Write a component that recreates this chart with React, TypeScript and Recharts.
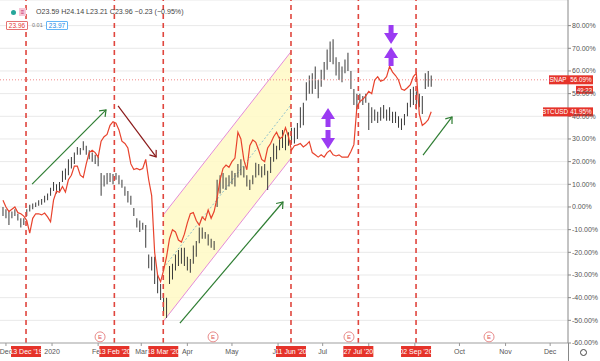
import React from "react";
import {
  ComposedChart,
  Bar,
  Line,
  XAxis,
  YAxis,
  CartesianGrid,
  ReferenceLine,
  ReferenceDot,
  ReferenceArea,
} from "recharts";

// x = days since 1 Jan 2020, one SNAP bar every two days
const firstDay = -33;
const dayStep = 2;

// SNAP, % change (OHLC bars, low / high)
const snapLow = [
  -4, -5, -8, -5, -4, -6, -9, -8, -4, -2,
  -1, 0, 0.5, 1, 2, 3, 5, 7, 6, 7,
  11, 12, 14, 17, 19, 23, 23, 25, 23, 21,
  20, 19, 18, 5, 9, 10, 11, 10, 12, 10,
  8.5, 5, 2, 1, -4, -9, -11, -10, -18, -27,
  -28, -34, -38, -41, -48, -49, -34, -32, -28, -26,
  -25, -26, -28, -29, -25, -22, -16, -14, -14, -17,
  -18, -19, 0, 6, 8, 7.5, 9, 10, 9, 13,
  14, 13, 9, 7.5, 10, 13, 14, 13, 14, 7.5,
  15, 20, 21, 25, 26, 25, 27, 28, 28, 30,
  35, 36, 47, 50, 50, 52, 48, 53, 56, 60.5,
  64, 63, 58, 56, 55, 59, 60, 52, 45, 43,
  46, 45, 46, 34, 37, 38, 37, 38, 39, 38,
  38, 37, 37, 35, 34, 36, 40, 44, 45, 43,
  44, 41, 52, 53, 53,
];
const snapHigh = [
  0, -1, -2, -2, -1, -3, -5, -5, -1, 1,
  1.5, 2, 3, 3.5, 5, 6, 8.5, 11, 10, 11,
  16, 17, 21, 22, 24, 26.5, 26, 29, 27, 25,
  24, 23, 22, 15, 14, 15, 15, 14.5, 15, 14,
  12, 9, 7, 5, -0.5, -5, -6, -7, -8, -21,
  -22, -22, -30, -34, -38, -40, -26, -25, -21, -19,
  -18, -18, -22, -23, -17, -15, -9, -9, -11, -12,
  -14, -15, 12, 14, 15, 13, 14, 16, 15, 19,
  21, 18, 14, 12, 14, 19.5, 19, 18, 19, 16,
  22, 28, 27, 31, 34, 32, 33, 35, 35, 37,
  44, 46, 55, 58, 59, 62, 56, 60.5, 64, 69.5,
  73, 74, 66, 64, 62, 65, 68, 60, 52, 50,
  50, 49, 50, 46, 44, 43, 42, 44, 45, 43,
  44, 42, 42, 40, 39, 41, 46, 52, 53, 51,
  50, 49, 59, 60, 58,
];
// BTCUSD, % change
const btcPct = [
  3, 0, -2, -1, 0, -2.5, -3, -4, -6, -11.5,
  -5, -3, -3, -3.5, -2.7, -4.4, -6.5, 3, 7, 6.5,
  9, 6.6, 12, 14, 18, 18, 14, 13, 19, 24,
  25, 24, 22, 29, 31, 32, 36, 37.6, 37, 34,
  29, 28, 26, 19, 16.5, 17, 16.4, 17, 21, 12,
  5, -20, -30, -33, -28, -22, -14, -10, -11, -14.6,
  -15.5, -12, -7, -3, -2.5, -6, -8, -4.4, -5.8, -1.3,
  -5, -2, 4, 12, 17, 18.5, 17.5, 20, 21.6, 33,
  30, 20.8, 16.4, 27, 29.6, 28.5, 25, 21, 20, 26,
  28, 31, 33, 30, 31, 35, 31, 25, 27, 27.4,
  28, 26.5, 27.4, 28.8, 24, 23, 22, 23, 22, 24,
  25, 23, 22.5, 23, 22, 22, 22, 24.5, 27.5, 44,
  46.5, 47.5, 49, 51, 50, 56, 57.5, 55.5, 56, 57.5,
  62, 59.5, 58, 56, 52, 51.5, 52.6, 54, 57.5, 59,
  41, 36, 37, 38.5, 42,
];

const monthTicks = [-31, 0, 31, 60, 91, 121, 152, 182, 213, 244, 274, 305, 335];
const monthLabels = ["Dec", "2020", "Feb", "Mar", "Apr", "May", "Jun", "Jul", "Aug", "Sep", "Oct", "Nov", "Dec"];
const pctTicks = [-60, -50, -40, -30, -20, -10, 0, 10, 20, 30, 40, 50, 60, 70, 80];

const eventDays = [-17.5, 41.9, 74.8, 160.7, 206, 244.8];
const eventLabels = ["13 Dec '19", "13 Feb '20", "18 Mar '20", "11 Jun '20", "27 Jul '20", "02 Sep '20"];
const earningsDays = [32.3, 108.3, 199.7, 293.9];

// channel: [day, lower, upper] at both ends
const channelStart = [74.8, -50.5, -3.5];
const channelEnd = [160.7, 21.5, 68.5];

// trend arrows [x1, y1, x2, y2]
const greenArrows = [
  [-13.4, 10.1, 36.3, 42.8],
  [86, -51.2, 155.3, 2.2],
  [249.5, 22.9, 269, 39.7],
];
const redArrow = [44.4, 44.6, 70, 22.1];

// purple markers [day, tip %, direction]
const purpleMarks: [number, number, string][] = [
  [185.6, 43.7, "up"],
  [185.6, 25.6, "down"],
  [228, 71.9, "down"],
  [228, 70.6, "up"],
];

const snapLast = 56.09;
const btcLast = 41.95;

const X_DOMAIN = [-35, 347];
const Y_DOMAIN = [-60, 91.3];
const BOX_HALF = 15;

const RED = "#e5332a";
const FONT = "Liberation Sans, Arial, sans-serif";

const rows = snapLow.map((lo, i) => ({
  day: firstDay + i * dayStep,
  snap: [lo, snapHigh[i]],
  btc: btcPct[i],
}));

const AxisTick = (props: any) => {
  const { x, y, payload, index } = props;
  const v = payload.value;
  const ev = eventDays.indexOf(v);
  if (ev >= 0) {
    return (
      <g>
        <rect x={x - BOX_HALF} y={y - 2} width={BOX_HALF * 2} height={11} fill={RED} />
        <text x={x} y={y + 6} textAnchor="middle" fontSize={7} fill="#fff" fontFamily={FONT}>
          {eventLabels[ev]}
        </text>
      </g>
    );
  }
  const m = monthTicks.indexOf(v);
  // event boxes sit on top of month labels: keep only the uncovered part
  const pxPerDay = (props.width || 568) / (X_DOMAIN[1] - X_DOMAIN[0]);
  let left = x - 14;
  let right = x + 14;
  eventDays.forEach((e) => {
    const ex = x + (e - v) * pxPerDay;
    if (ex >= x) right = Math.min(right, ex - BOX_HALF);
    else left = Math.max(left, ex + BOX_HALF);
  });
  const id = `mclip-${index}-${v}`;
  return (
    <g>
      <line x1={x} x2={x} y1={y - 5} y2={y - 2} stroke="#999" />
      {right - left > 10 && (
        <>
          <clipPath id={id}>
            <rect x={left} y={y - 4} width={right - left} height={14} />
          </clipPath>
          <text x={x} y={y + 6} textAnchor="middle" fontSize={7} fill="#555" fontFamily={FONT} clipPath={`url(#${id})`}>
            {monthLabels[m]}
          </text>
        </>
      )}
    </g>
  );
};

const arrowShape = (color: string) => (p: any) => {
  const { x1, y1, x2, y2 } = p;
  const a = Math.atan2(y2 - y1, x2 - x1);
  const L = 7;
  const s = 0.65;
  const ax = x2 - L * Math.cos(a - s);
  const ay = y2 - L * Math.sin(a - s);
  const bx = x2 - L * Math.cos(a + s);
  const by = y2 - L * Math.sin(a + s);
  return (
    <g>
      <line x1={x1} y1={y1} x2={x2} y2={y2} stroke={color} strokeWidth={1.2} />
      <polyline points={`${ax},${ay} ${x2},${y2} ${bx},${by}`} fill="none" stroke={color} strokeWidth={1.2} />
    </g>
  );
};

const ChannelShape = (p: any) => {
  const { x, y, width, height } = p;
  const top = channelEnd[2];
  const bottom = channelStart[1];
  const fy = (v: number) => y + (height * (top - v)) / (top - bottom);
  const l1 = fy(channelStart[1]);
  const u1 = fy(channelStart[2]);
  const l2 = fy(channelEnd[1]);
  const u2 = fy(channelEnd[2]);
  const x2 = x + width;
  return (
    <g>
      <polygon points={`${x},${l1} ${x},${u1} ${x2},${u2} ${x2},${l2}`} fill="#fff9c4" fillOpacity={0.85} />
      <line x1={x} y1={u1} x2={x2} y2={u2} stroke="#e48bd8" strokeWidth={1} />
      <line x1={x} y1={l1} x2={x2} y2={l2} stroke="#e48bd8" strokeWidth={1} />
      <line x1={x} y1={(l1 + u1) / 2} x2={x2} y2={(l2 + u2) / 2} stroke="#8fc1cc" strokeWidth={1} strokeDasharray="2 2" />
    </g>
  );
};

const PurpleShape = (dir: string) => (p: any) => {
  const { cx, cy } = p;
  const s = dir === "up" ? 1 : -1;
  const hh = 11;
  const hw = 7;
  const sw = 2.5;
  const sl = 8;
  const pts = [
    [cx, cy],
    [cx + hw, cy + s * hh],
    [cx + sw, cy + s * hh],
    [cx + sw, cy + s * (hh + sl)],
    [cx - sw, cy + s * (hh + sl)],
    [cx - sw, cy + s * hh],
    [cx - hw, cy + s * hh],
  ];
  return <polygon points={pts.map((q) => q.join(",")).join(" ")} fill="#9b3bf2" />;
};

const EarningsShape = (p: any) => (
  <g>
    <circle cx={p.cx} cy={p.cy} r={5} fill="#fff" stroke="#e88a8a" strokeWidth={1} />
    <text x={p.cx} y={p.cy + 2.3} textAnchor="middle" fontSize={6} fill="#e05555" fontFamily={FONT}>
      E
    </text>
  </g>
);

const SnapTag = (p: any) => (
  <g>
    <rect x={p.cx - 19} y={p.cy - 4.5} width={44} height={9} fill={RED} />
    <text x={p.cx - 10} y={p.cy + 2.4} textAnchor="middle" fontSize={6.3} fill="#fff" fontFamily={FONT}>SNAP</text>
    <text x={p.cx + 13} y={p.cy + 2.4} textAnchor="middle" fontSize={6.3} fill="#fff" fontFamily={FONT}>
      {snapLast.toFixed(2)}%
    </text>
    <rect x={p.cx + 8} y={p.cy + 6} width={17} height={8} fill={RED} />
    <text x={p.cx + 16.5} y={p.cy + 12.2} textAnchor="middle" fontSize={6} fill="#fff" fontFamily={FONT}>49:33</text>
  </g>
);

const BtcTag = (p: any) => (
  <g>
    <rect x={p.cx - 25} y={p.cy - 4.5} width={50} height={9} fill={RED} />
    <text x={p.cx - 13} y={p.cy + 2.4} textAnchor="middle" fontSize={6.3} fill="#fff" fontFamily={FONT}>BTCUSD</text>
    <text x={p.cx + 13} y={p.cy + 2.4} textAnchor="middle" fontSize={6.3} fill="#fff" fontFamily={FONT}>
      {btcLast.toFixed(2)}%
    </text>
  </g>
);

export default function App() {
  return (
    <div style={{ position: "relative", width: 600, height: 361, background: "#fff", fontFamily: FONT }}>
      <style>{`body{margin:0}`}</style>
      <ComposedChart width={600} height={361} data={rows} margin={{ top: 0, right: 0, bottom: 0, left: 0 }}>
        <CartesianGrid
          stroke="#e9e9e9"
          verticalCoordinatesGenerator={({ xAxis }: any) =>
            xAxis && typeof xAxis.scale === "function" ? monthTicks.map((d) => xAxis.scale(d)) : []
          }
        />
        <XAxis
          dataKey="day"
          type="number"
          domain={X_DOMAIN}
          allowDataOverflow
          ticks={[...monthTicks, ...eventDays]}
          interval={0}
          height={18}
          tickSize={3}
          tickMargin={2}
          tickLine={false}
          axisLine={{ stroke: "#aaa" }}
          tick={<AxisTick />}
        />
        <YAxis
          orientation="right"
          width={32}
          domain={Y_DOMAIN}
          allowDataOverflow
          ticks={pctTicks}
          interval={0}
          tickSize={3}
          tickMargin={1}
          axisLine={{ stroke: "#888" }}
          tickLine={{ stroke: "#888" }}
          tick={{ fontSize: 7, fill: "#555", fontFamily: FONT }}
          tickFormatter={(v: number) => `${v.toFixed(2)}%`}
        />
        <ReferenceArea
          x1={channelStart[0]}
          x2={channelEnd[0]}
          y1={channelStart[1]}
          y2={channelEnd[2]}
          shape={ChannelShape}
        />
        {eventDays.map((d) => (
          <ReferenceLine key={`ev-${d}`} x={d} stroke="#e0463e" strokeWidth={1.6} strokeDasharray="5 4" />
        ))}
        <ReferenceLine y={snapLast} stroke="#f08a8a" strokeDasharray="1 2" />
        <Bar dataKey="snap" barSize={1} fill="#3a3a3a" isAnimationActive={false} />
        <Line
          dataKey="btc"
          type="linear"
          stroke="#e8432d"
          strokeWidth={1.2}
          dot={false}
          activeDot={false}
          isAnimationActive={false}
        />
        {greenArrows.map((a, i) => (
          <ReferenceLine
            key={`ga-${i}`}
            segment={[{ x: a[0], y: a[1] }, { x: a[2], y: a[3] }]}
            stroke="#2e7d32"
            shape={arrowShape("#2e7d32")}
            ifOverflow="visible"
          />
        ))}
        <ReferenceLine
          segment={[{ x: redArrow[0], y: redArrow[1] }, { x: redArrow[2], y: redArrow[3] }]}
          stroke="#8b1a1a"
          shape={arrowShape("#8b1a1a")}
          ifOverflow="visible"
        />
        {purpleMarks.map((m, i) => (
          <ReferenceDot key={`pm-${i}`} x={m[0]} y={m[1]} shape={PurpleShape(m[2])} ifOverflow="visible" />
        ))}
        {earningsDays.map((d) => (
          <ReferenceDot key={`e-${d}`} x={d} y={-57.3} shape={EarningsShape} ifOverflow="visible" />
        ))}
        <ReferenceDot x={X_DOMAIN[1]} y={snapLast} shape={SnapTag} ifOverflow="visible" />
        <ReferenceDot x={X_DOMAIN[1]} y={btcLast} shape={BtcTag} ifOverflow="visible" />
      </ComposedChart>

      {/* legend overlay */}
      <div style={{ position: "absolute", left: 11, top: 10, width: 5, height: 5, borderRadius: 3, background: "#26a69a" }} />
      <div
        style={{
          position: "absolute", left: 19, top: 8, width: 7, height: 8, background: "#f7c6d6",
          fontSize: 6, lineHeight: "8px", textAlign: "center", color: "#c2185b",
        }}
      >
        ≡
      </div>
      <div style={{ position: "absolute", left: 36, top: 8, fontSize: 7.1, color: "#444", whiteSpace: "nowrap" }}>
        O23.59 H24.14 L23.21 C23.96 −0.23 (−0.95%)
      </div>
      <div
        style={{
          position: "absolute", left: 6, top: 21, width: 20, height: 7, border: "1px solid #e57373",
          borderRadius: 1, fontSize: 6.5, lineHeight: "7px", textAlign: "center", color: "#e53935", background: "#fff",
        }}
      >
        23.96
      </div>
      <div style={{ position: "absolute", left: 32, top: 22, fontSize: 5.5, color: "#777" }}>0.01</div>
      <div
        style={{
          position: "absolute", left: 46, top: 21, width: 20, height: 7, border: "1px solid #64b5f6",
          borderRadius: 1, fontSize: 6.5, lineHeight: "7px", textAlign: "center", color: "#1e88e5", background: "#fff",
        }}
      >
        23.97
      </div>
      <div style={{ position: "absolute", left: 568, top: 343, width: 1, height: 18, background: "#888" }} />
      <div
        style={{
          position: "absolute", left: 580, top: 349, width: 5, height: 5, borderRadius: 4,
          border: "1px solid #444",
        }}
      />
    </div>
  );
}
